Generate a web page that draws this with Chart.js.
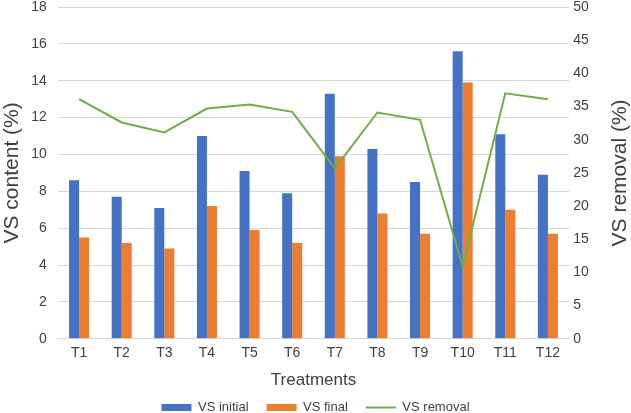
<!DOCTYPE html>
<html>
<head>
<meta charset="utf-8">
<script src="https://cdn.jsdelivr.net/npm/chart.js@4/dist/chart.umd.min.js"></script>
<style>
html,body{margin:0;padding:0;background:#fff;}
#wrap{width:631px;height:413px;}
</style>
</head>
<body>
<div id="wrap"><canvas id="c" width="631" height="413"></canvas></div>
<script>
const categories = ["T1","T2","T3","T4","T5","T6","T7","T8","T9","T10","T11","T12"];
const vsInitial = [8.6, 7.7, 7.1, 11.0, 9.1, 7.9, 13.3, 10.3, 8.5, 15.6, 11.1, 8.9];
const vsFinal = [5.5, 5.2, 4.9, 7.2, 5.9, 5.2, 9.9, 6.8, 5.7, 13.9, 7.0, 5.7];
const vsRemoval = [36.1, 32.6, 31.1, 34.7, 35.3, 34.2, 25.7, 34.1, 33.0, 10.9, 37.0, 36.1];

const FONT = "'Liberation Sans', Arial, sans-serif";
const TXT = '#404040';
const RIGHT_TITLE = 'VS removal (%)';
const CLEAR = 'rgba(0,0,0,0)';

const rightTitlePlugin = {
  id:'rightTitle',
  afterDraw(chart){
    const s = chart.scales.y1;
    const ctx = chart.ctx;
    ctx.save();
    ctx.font = "21px " + FONT;
    ctx.fillStyle = TXT;
    ctx.textAlign = 'center';
    ctx.textBaseline = 'middle';
    ctx.translate(s.right - 11, (s.top + s.bottom)/2);
    ctx.rotate(-Math.PI/2);
    ctx.fillText(RIGHT_TITLE, 0, 0);
    ctx.restore();
  }
};

new Chart(document.getElementById('c'), {
  data: {
    labels: categories,
    datasets: [
      {type:'bar', label:'VS initial', data: vsInitial, backgroundColor:'#4472C4', yAxisID:'y', order:2,
       categoryPercentage:0.47, barPercentage:1.0},
      {type:'bar', label:'VS final', data: vsFinal, backgroundColor:'#ED7D31', yAxisID:'y', order:2,
       categoryPercentage:0.47, barPercentage:1.0},
      {type:'line', label:'VS removal', data: vsRemoval, borderColor:'#70AD47', backgroundColor:'#70AD47',
       borderWidth:2, pointRadius:0, tension:0, yAxisID:'y1', order:1}
    ]
  },
  plugins:[rightTitlePlugin],
  options: {
    responsive:false,
    animation:false,
    layout:{padding:{top:0,left:0,right:0,bottom:-11}},
    plugins:{
      tooltip:{enabled:false},
      legend:{
        position:'bottom',
        labels:{
          font:{family:FONT,size:13},
          color:TXT,
          usePointStyle:true,
          pointStyleWidth:30,
          boxWidth:30,
          boxHeight:7,
          padding:18,
          sort:(a,b)=>a.datasetIndex-b.datasetIndex,
          generateLabels: (chart) => Chart.defaults.plugins.legend.labels.generateLabels(chart).map(l => Object.assign(l, {pointStyle: l.datasetIndex===2 ? 'line' : 'rect', lineWidth: l.datasetIndex===2 ? 2 : 0}))
        }
      }
    },
    scales:{
      x:{
        grid:{display:false,drawTicks:false},
        border:{display:true,color:'#d9d9d9'},
        ticks:{font:{family:FONT,size:14},color:TXT,padding:6},
        title:{display:true,text:'Treatments',font:{family:FONT,size:17},color:TXT,padding:{top:3,bottom:-8}}
      },
      y:{
        position:'left',
        min:0,max:18,
        ticks:{stepSize:2,font:{family:FONT,size:14,lineHeight:1},color:TXT,padding:0},
        grid:{color:'#d9d9d9',drawTicks:true,tickLength:11,tickColor:CLEAR},
        border:{display:false},
        title:{display:true,text:'VS content (%)',font:{family:FONT,size:21},color:TXT,padding:{top:0,bottom:6}}
      },
      y1:{
        position:'right',
        min:0,max:50,
        ticks:{stepSize:5,font:{family:FONT,size:14,lineHeight:1},color:TXT,padding:0},
        grid:{display:true,drawOnChartArea:false,color:CLEAR,drawTicks:true,tickLength:4,tickColor:CLEAR},
        border:{display:false},
        title:{display:true,text:RIGHT_TITLE,font:{family:FONT,size:21},color:CLEAR,padding:{top:17,bottom:0}}
      }
    }
  }
});
</script>
</body>
</html>
